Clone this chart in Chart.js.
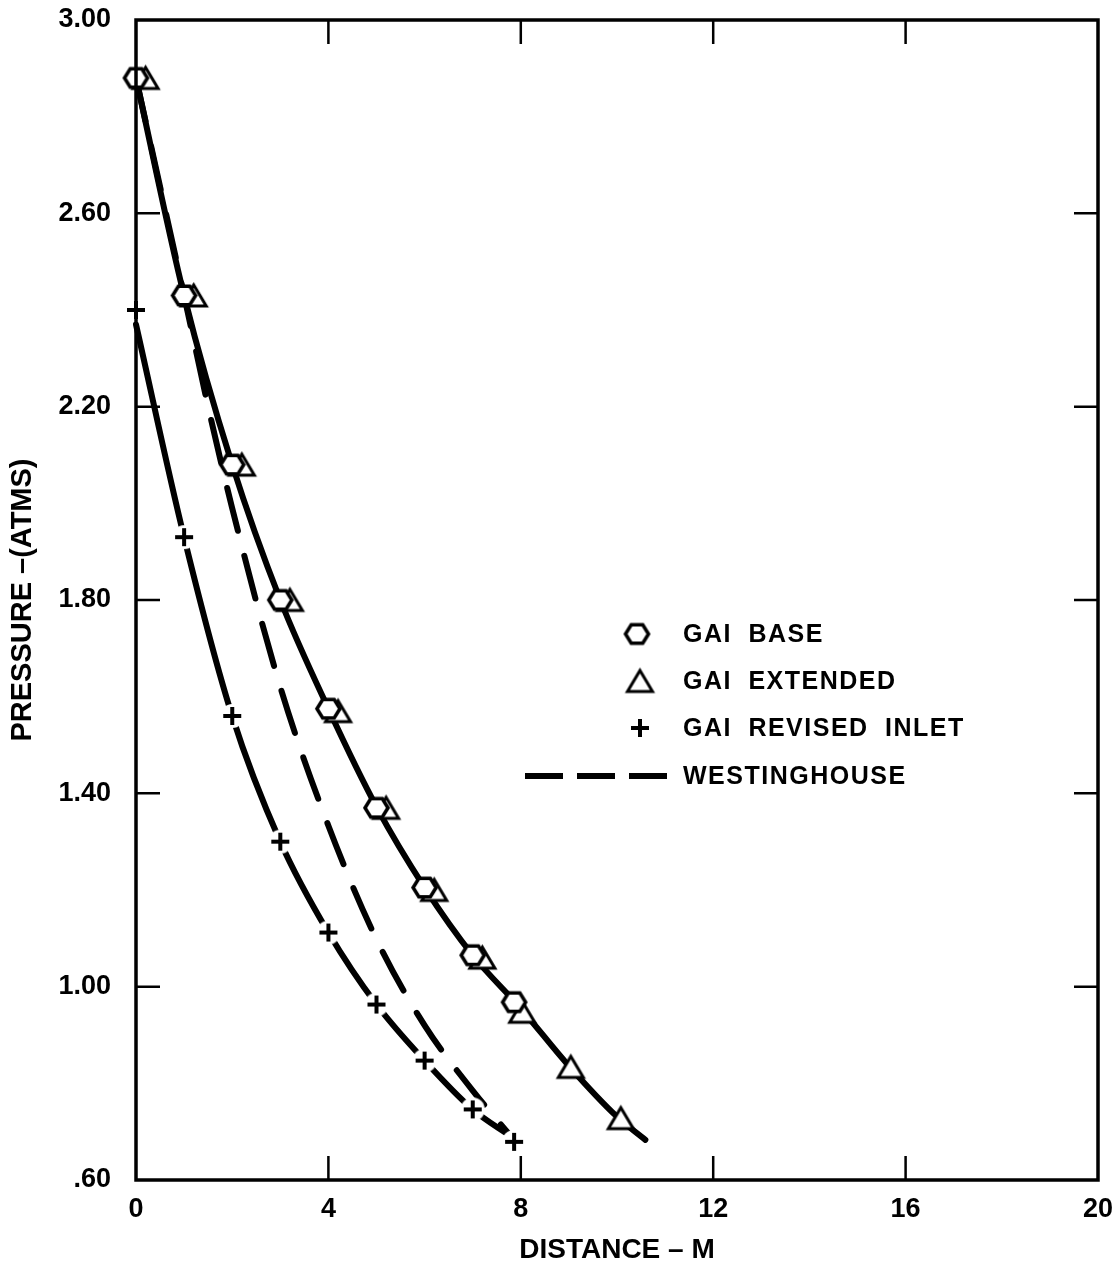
<!DOCTYPE html>
<html>
<head>
<meta charset="utf-8">
<script src="https://cdn.jsdelivr.net/npm/chart.js@4.4.1/dist/chart.umd.min.js"></script>
<style>
  html, body { margin: 0; padding: 0; background: #fff; }
</style>
</head>
<body>
<canvas id="myChart" width="1116" height="1271"></canvas>
<script>
// Данни, отчетени от графиката (разстояние в m, налягане в atm)
const baseX = [0, 1, 2, 3, 4, 5, 6, 7, 7.86];
const baseP = [2.88, 2.43, 2.08, 1.80, 1.575, 1.37, 1.205, 1.065, 0.968];

const extX = [0.2, 1.2, 2.2, 3.2, 4.2, 5.2, 6.2, 7.2, 8.03, 9.04, 10.08];
const extP = [2.88, 2.43, 2.08, 1.80, 1.57, 1.37, 1.20, 1.06, 0.948, 0.834, 0.728];

const inletX = [0, 1, 2, 3, 4, 5, 6, 7, 7.86];
const inletP = [2.40, 1.93, 1.56, 1.30, 1.112, 0.963, 0.847, 0.746, 0.679];

// плътната крива през GAI BASE / GAI EXTENDED
const gaiCurveX = [0, 1, 2, 3, 4, 5, 6, 7, 8, 9, 10, 10.59];
const gaiCurveP = [2.88, 2.43, 2.08, 1.80, 1.575, 1.372, 1.205, 1.065, 0.955, 0.836, 0.731, 0.683];

// плътната крива през GAI REVISED INLET
const inletCurveX = [0, 1, 2, 3, 4, 5, 6, 7, 7.8];
const inletCurveP = [2.37, 1.93, 1.56, 1.30, 1.112, 0.963, 0.847, 0.746, 0.69];

// Westinghouse (пунктир)
const westX = [0, 1, 1.5, 2, 3, 4, 5, 6, 7, 7.78];
const westP = [2.88, 2.43, 2.20, 1.99, 1.62, 1.333, 1.098, 0.92, 0.785, 0.692];

const xTicks = [0, 4, 8, 12, 16, 20];
const yTicks = [0.60, 1.00, 1.40, 1.80, 2.20, 2.60, 3.00];

const legendLabels = ['GAI BASE', 'GAI EXTENDED', 'GAI REVISED INLET', 'WESTINGHOUSE'];

const FONT = "'Liberation Sans', Arial, Helvetica, sans-serif";

// Помощна функция: от два масива прави точки {x, y}
function toPoints(xs, ys) {
    return xs.map((x, i) => ({ x: x, y: ys[i] }));
}

// Маркери като малки canvas-и (Chart.js няма шестоъгълник)
function hexagonImage(r) {
    const c = document.createElement('canvas');
    const s = Math.ceil(2 * r + 6);
    c.width = s; c.height = s;
    const g = c.getContext('2d');
    g.translate(s / 2, s / 2);
    g.beginPath();
    for (let i = 0; i < 6; i++) {
        const a = Math.PI / 3 * i;
        const px = r * Math.cos(a), py = r * 0.92 * Math.sin(a);
        if (i === 0) g.moveTo(px, py); else g.lineTo(px, py);
    }
    g.closePath();
    g.fillStyle = '#fff';
    g.fill();
    g.lineWidth = 3.5;
    g.strokeStyle = '#000';
    g.stroke();
    return c;
}

function triangleImage(w, h) {
    const c = document.createElement('canvas');
    c.width = Math.ceil(w + 8); c.height = Math.ceil(h + 8);
    const g = c.getContext('2d');
    g.translate(c.width / 2, c.height / 2);
    g.beginPath();
    g.moveTo(0, -h / 2);
    g.lineTo(w / 2, h / 2);
    g.lineTo(-w / 2, h / 2);
    g.closePath();
    g.fillStyle = '#fff';
    g.fill();
    g.lineWidth = 3;
    g.strokeStyle = '#000';
    g.stroke();
    return c;
}

function plusImage(arm, halo) {
    const c = document.createElement('canvas');
    const s = Math.ceil(2 * Math.max(arm + 2, halo) + 2);
    c.width = s; c.height = s;
    const g = c.getContext('2d');
    g.translate(s / 2, s / 2);
    if (halo > 0) {
        g.beginPath();
        g.arc(0, 0, halo, 0, Math.PI * 2);
        g.fillStyle = '#fff';
        g.fill();
    }
    g.strokeStyle = '#000';
    g.lineWidth = 4;
    g.beginPath();
    g.moveTo(-arm, 0); g.lineTo(arm, 0);
    g.moveTo(0, -arm); g.lineTo(0, arm);
    g.stroke();
    return c;
}

const hexImg = hexagonImage(11.5);
const triImg = triangleImage(25, 21);
const plusImg = plusImage(9, 12);
const plusLegendImg = plusImage(9, 0);

// Рамка около графиката и вътрешни чертички
const framePlugin = {
    id: 'frame',
    afterDatasetsDraw(chart) {
        const { ctx, chartArea: a, scales } = chart;
        const tickLen = 24;
        ctx.save();
        ctx.strokeStyle = '#000';
        ctx.lineWidth = 2.5;
        ctx.beginPath();
        yTicks.slice(1, -1).forEach(v => {
            const py = scales.y.getPixelForValue(v);
            ctx.moveTo(a.left, py); ctx.lineTo(a.left + tickLen, py);
            ctx.moveTo(a.right, py); ctx.lineTo(a.right - tickLen, py);
        });
        xTicks.slice(1, -1).forEach(v => {
            const px = scales.x.getPixelForValue(v);
            ctx.moveTo(px, a.bottom); ctx.lineTo(px, a.bottom - tickLen);
            ctx.moveTo(px, a.top); ctx.lineTo(px, a.top + tickLen);
        });
        ctx.stroke();
        ctx.lineWidth = 3.5;
        ctx.strokeRect(a.left, a.top, a.right - a.left, a.bottom - a.top);
        ctx.restore();
    },
    // Легендата е вътре в графиката, вдясно
    afterDraw(chart) {
        const ctx = chart.ctx;
        const textX = 683;
        const rows = [634, 681, 728, 776];
        ctx.save();
        ctx.drawImage(hexImg, 637 - hexImg.width / 2, rows[0] - hexImg.height / 2);
        ctx.drawImage(triImg, 640 - triImg.width / 2, rows[1] - triImg.height / 2);
        ctx.drawImage(plusLegendImg, 640 - plusLegendImg.width / 2, rows[2] - plusLegendImg.height / 2);
        ctx.strokeStyle = '#000';
        ctx.lineWidth = 6;
        ctx.setLineDash([38, 14]);
        ctx.beginPath();
        ctx.moveTo(525, rows[3]);
        ctx.lineTo(668, rows[3]);
        ctx.stroke();
        ctx.setLineDash([]);
        ctx.fillStyle = '#000';
        ctx.font = 'bold 25px ' + FONT;
        ctx.textBaseline = 'middle';
        ctx.textAlign = 'left';
        if ('letterSpacing' in ctx) ctx.letterSpacing = '1.5px';
        if ('wordSpacing' in ctx) ctx.wordSpacing = '8px';
        legendLabels.forEach((t, i) => ctx.fillText(t, textX, rows[i] + 1));
        ctx.restore();
    }
};

const canvas = document.getElementById('myChart');

new Chart(canvas, {
    type: 'line',
    data: {
        datasets: [
            {
                label: legendLabels[0],
                data: toPoints(baseX, baseP),
                showLine: false,
                pointStyle: hexImg,
                pointRadius: 11,
                clip: false
            },
            {
                label: legendLabels[1],
                data: toPoints(extX, extP),
                showLine: false,
                pointStyle: triImg,
                pointRadius: 11,
                clip: false
            },
            {
                label: legendLabels[2],
                data: toPoints(inletX, inletP),
                showLine: false,
                pointStyle: plusImg,
                pointRadius: 11,
                clip: false
            },
            {
                label: 'GAI curve',
                data: toPoints(gaiCurveX, gaiCurveP),
                borderColor: '#000',
                borderWidth: 6,
                borderCapStyle: 'round',
                pointRadius: 0,
                cubicInterpolationMode: 'monotone',
                clip: false
            },
            {
                label: 'Inlet curve',
                data: toPoints(inletCurveX, inletCurveP),
                borderColor: '#000',
                borderWidth: 6,
                borderCapStyle: 'round',
                pointRadius: 0,
                cubicInterpolationMode: 'monotone',
                clip: false
            },
            {
                label: legendLabels[3],
                data: toPoints(westX, westP),
                borderColor: '#000',
                borderWidth: 6,
                borderDash: [44, 26],
                borderCapStyle: 'round',
                pointRadius: 0,
                cubicInterpolationMode: 'monotone',
                clip: false
            }
        ]
    },
    options: {
        responsive: false,
        animation: false,
        events: [],
        layout: { padding: { top: 20, right: 18, left: 0, bottom: 0 } },
        plugins: {
            legend: { display: false },
            tooltip: { enabled: false }
        },
        scales: {
            x: {
                type: 'linear',
                min: xTicks[0],
                max: xTicks[xTicks.length - 1],
                afterFit(s) {
                    s.height = 91;
                    s.paddingLeft = 0;
                    s.paddingRight = 0;
                },
                grid: { display: false },
                border: { display: false },
                ticks: {
                    stepSize: 4,
                    color: '#000',
                    padding: 5,
                    maxRotation: 0,
                    font: { family: FONT, size: 27, weight: 'bold' }
                },
                title: {
                    display: true,
                    text: 'DISTANCE – M',
                    color: '#000',
                    padding: { top: 0, bottom: 4 },
                    font: { family: FONT, size: 28, weight: 'bold' }
                }
            },
            y: {
                type: 'linear',
                min: yTicks[0],
                max: yTicks[yTicks.length - 1],
                afterFit(s) {
                    s.width = 136;
                    s.paddingTop = 0;
                    s.paddingBottom = 0;
                },
                grid: { display: false },
                border: { display: false },
                ticks: {
                    stepSize: 0.4,
                    color: '#000',
                    padding: 17,
                    font: { family: FONT, size: 27, weight: 'bold' },
                    callback: v => v < 1 ? '.' + v.toFixed(2).split('.')[1] : v.toFixed(2)
                },
                title: {
                    display: true,
                    text: 'PRESSURE –(ATMS)',
                    color: '#000',
                    padding: { top: 6, bottom: 0 },
                    font: { family: FONT, size: 29, weight: 'bold' }
                }
            }
        }
    },
    plugins: [framePlugin]
});
</script>
</body>
</html>
